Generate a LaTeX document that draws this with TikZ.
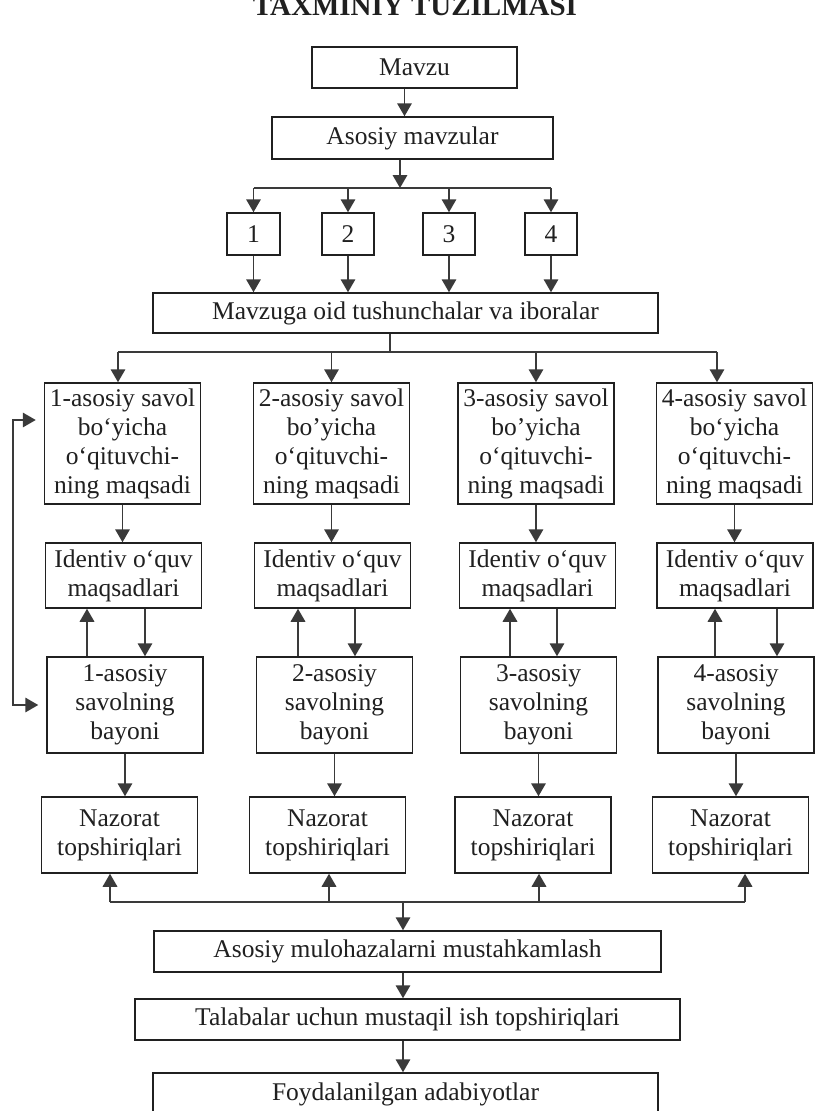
\documentclass[tikz,border=0pt]{standalone}
\usepackage{fontspec}
\setmainfont{Liberation Serif}
\usetikzlibrary{arrows.meta, positioning, calc}
\definecolor{inkgray}{RGB}{32,32,32}
\definecolor{linegray}{RGB}{58,58,58}

\begin{document}
\begin{tikzpicture}[
    x=1pt, y=-1pt,
    >={Triangle[length=13pt, width=14.5pt]},
    blockbox/.style={rectangle, draw=inkgray, line width=1.5pt, inner sep=0pt,
                     align=center, text=inkgray,
                     font=\fontsize{25.5}{29}\selectfont},
    colbox/.style={blockbox, minimum width=156pt},
    flow/.style={draw=linegray, line width=1.8pt}
]
    \useasboundingbox (0,0) rectangle (829,1111);
    \fill[white] (0,0) rectangle (829,1111);

    \node[anchor=base, text=inkgray, font=\bfseries\fontsize{29}{33}\selectfont] (title) at (415,15) {TAXMINIY TUZILMASI};

    % top part
    \node[blockbox, minimum width=205pt, minimum height=41pt] (mavzu) at (414.5,67.5) {Mavzu};
    \node[blockbox, minimum width=281pt, minimum height=42pt] (asosiy) at (412.5,138) {Asosiy mavzular};
    \foreach \i/\x/\w in {1/253.5/53, 2/348/52, 3/449/52, 4/551/52}
        \node[blockbox, minimum width=\w pt, minimum height=42pt] (num\i) at (\x,234) {\i};
    \node[blockbox, minimum width=505pt, minimum height=40pt] (tushuncha) at (405.5,313) {Mavzuga oid tushunchalar va iboralar};

    % four columns
    \foreach \i/\xa/\xb/\xc/\xd/\bq in {1/122.5/123.5/125/119.5/‘, 2/331.5/332.5/334.5/327.5/’, 3/536/537.5/538.5/533/’, 4/734.5/735/736/730.5/‘} {
        \node[colbox, minimum height=121pt] (savol\i) at (\xa,443.5) {\i-asosiy savol\\bo\bq yicha\\o‘qituvchi-\\ning maqsadi};
        \node[colbox, minimum height=65pt] (identiv\i) at (\xb,575.5) {Identiv o‘quv\\maqsadlari};
        \node[colbox, minimum height=96pt] (bayon\i) at (\xc,705) {\i-asosiy\\savolning\\bayoni};
        \node[colbox, minimum height=76pt] (nazorat\i) at (\xd,835) {Nazorat\\topshiriqlari};
    }

    % bottom part
    \node[blockbox, minimum width=507pt, minimum height=41pt] (mulohaza) at (407.5,951.5) {Asosiy mulohazalarni mustahkamlash};
    \node[blockbox, minimum width=545pt, minimum height=41pt] (talaba) at (407.5,1019.5) {Talabalar uchun mustaqil ish topshiriqlari};
    \node[blockbox, minimum width=505pt, minimum height=42pt] (adabiyot) at (405.5,1094) {Foydalanilgan adabiyotlar};

    \coordinate (topbus) at (400,188);
    \coordinate (midbus) at (390,352);
    \coordinate (lowbus) at (403,902);
    \coordinate (loopback) at (13,420);

    % connectors
    \draw[flow, ->] ([xshift=-10pt]mavzu.south) -- ([xshift=-10pt]mavzu.south |- asosiy.north);
    \draw[flow, ->] (asosiy.south -| topbus) -- (topbus);
    \draw[flow] (num1.north |- topbus) -- (num4.north |- topbus);
    \foreach \i in {1,...,4} {
        \draw[flow, ->] (num\i.north |- topbus) -- (num\i.north);
        \draw[flow, ->] (num\i.south) -- (num\i.south |- tushuncha.north);
    }

    \draw[flow] (tushuncha.south -| midbus) -- (midbus);
    \draw[flow] ([xshift=-4.5pt]savol1.north |- midbus) -- ([xshift=-17.5pt]savol4.north |- midbus);
    \foreach \i/\s in {1/-4.5, 2/0, 3/0, 4/-17.5}
        \draw[flow, ->] ([xshift=\s pt]savol\i.north |- midbus) -- ([xshift=\s pt]savol\i.north);

    \foreach \i/\ux/\dx in {1/-36.5/21.5, 2/-34.5/22.5, 3/-27.5/19.5, 4/-20/42} {
        \draw[flow, ->] (savol\i.south) -- (savol\i.south |- identiv\i.north);
        \draw[flow, ->] ([xshift=\dx pt]identiv\i.south) -- ([xshift=\dx pt]identiv\i.south |- bayon\i.north);
        \draw[flow, ->] ([xshift=\ux pt]identiv\i.south |- bayon\i.north) -- ([xshift=\ux pt]identiv\i.south);
        \draw[flow, ->] (bayon\i.south) -- (bayon\i.south |- nazorat\i.north);
    }

    \draw[flow] ([xshift=-9.5pt]nazorat1.south |- lowbus) -- ([xshift=14.5pt]nazorat4.south |- lowbus);
    \foreach \i/\s in {1/-9.5, 2/1.5, 3/6, 4/14.5}
        \draw[flow, ->] ([xshift=\s pt]nazorat\i.south |- lowbus) -- ([xshift=\s pt]nazorat\i.south);
    \draw[flow, ->] (lowbus) -- (lowbus |- mulohaza.north);
    \draw[flow, ->] (mulohaza.south -| lowbus) -- (lowbus |- talaba.north);
    \draw[flow, ->] (talaba.south -| lowbus) -- (lowbus |- adabiyot.north);

    \draw[flow, <->, shorten <=8pt, shorten >=8pt] (savol1.west |- loopback) -- (loopback) |- (bayon1.west);
\end{tikzpicture}
\end{document}
